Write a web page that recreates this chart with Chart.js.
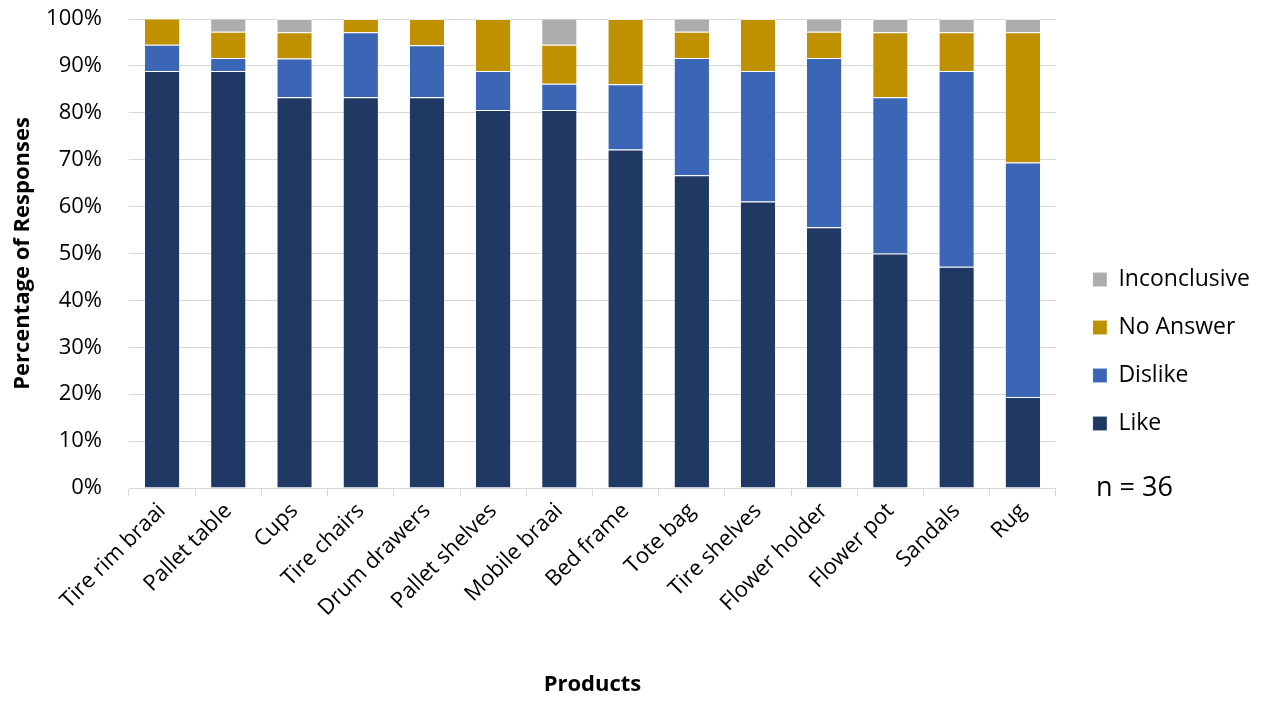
<!DOCTYPE html>
<html>
<head>
<meta charset="utf-8">
<script src="https://cdn.jsdelivr.net/npm/chart.js@4"></script>
<style>
  html, body { margin: 0; padding: 0; background: #fff; }
  #wrap { width: 1263px; height: 704px; }
</style>
</head>
<body>
<div id="wrap"><canvas id="chartProductos" width="1263" height="704"></canvas></div>
<script>
// datos (n = 36 respuestas por producto, en %)
const productos = ['Tire rim braai', 'Pallet table', 'Cups', 'Tire chairs', 'Drum drawers', 'Pallet shelves',
    'Mobile braai', 'Bed frame', 'Tote bag', 'Tire shelves', 'Flower holder', 'Flower pot', 'Sandals', 'Rug'];
const like         = [88.9, 88.9, 83.3, 83.3, 83.3, 80.6, 80.6, 72.2, 66.7, 61.1, 55.6, 50.0, 47.2, 19.4];
const dislike      = [5.6, 2.8, 8.3, 13.9, 11.1, 8.3, 5.6, 13.9, 25.0, 27.8, 36.1, 33.3, 41.7, 50.0];
const noAnswer     = [5.6, 5.6, 5.6, 2.8, 5.6, 11.1, 8.3, 13.9, 5.6, 11.1, 5.6, 13.9, 8.3, 27.8];
const inconclusive = [0, 2.8, 2.8, 0, 0, 0, 5.6, 0, 2.8, 0, 2.8, 2.8, 2.8, 2.8];
const yTicks = [0, 10, 20, 30, 40, 50, 60, 70, 80, 90, 100];
const nTexto = 'n = 36';

const fuente = "'Open Sans', 'Noto Sans', sans-serif";
Chart.defaults.font.family = fuente;
Chart.defaults.color = '#000';

// texto "n = 36" bajo la leyenda
const notaN = {
    id: 'notaN',
    afterDraw(chart) {
        const ctx = chart.ctx;
        ctx.save();
        ctx.font = '27px ' + fuente;
        ctx.fillStyle = '#000';
        ctx.textBaseline = 'middle';
        ctx.fillText(nTexto, 1096, 488);
        ctx.restore();
    }
};

// ajusta la leyenda: un poco más ancha y corrida a la derecha
const ajusteLeyenda = {
    id: 'ajusteLeyenda',
    beforeLayout(chart) {
        const lg = chart.legend;
        if (lg && !lg._parcheado) {
            const fitOriginal = lg.fit;
            lg.fit = function () {
                fitOriginal.call(this);
                this.width += 7;
            };
            lg._parcheado = true;
        }
    },
    afterLayout(chart) {
        const lg = chart.legend;
        if (lg) {
            lg.left += 12;
            lg.top -= 8;
            lg.bottom -= 8;
        }
    }
};

function serie(label, data, color) {
    return {
        label, data,
        backgroundColor: color,
        borderColor: 'rgba(255,255,255,0.6)',
        borderWidth: { top: 1 },
        borderSkipped: false,
        barPercentage: 0.52,
        categoryPercentage: 1
    };
}

new Chart(document.getElementById('chartProductos').getContext('2d'), {
    type: 'bar',
    data: {
        labels: productos,
        datasets: [
            serie('Like', like, '#203864'),
            serie('Dislike', dislike, '#3B66B6'),
            serie('No Answer', noAnswer, '#BF9000'),
            serie('Inconclusive', inconclusive, '#ADADAD')
        ]
    },
    plugins: [notaN, ajusteLeyenda],
    options: {
        responsive: false,
        animation: false,
        layout: { padding: { top: 19, right: 8, left: 4, bottom: 4 } },
        plugins: {
            legend: {
                position: 'right',
                reverse: true,
                labels: {
                    boxWidth: 14,
                    boxHeight: 14,
                    padding: 25,
                    font: { size: 23 }
                }
            },
            tooltip: { enabled: false }
        },
        scales: {
            x: {
                stacked: true,
                afterFit(axis) { axis.height = 212; axis.paddingLeft = 0; axis.paddingRight = 0; },
                grid: { drawOnChartArea: false, drawTicks: true, tickLength: 8, color: '#D9D9D9' },
                border: { color: '#D9D9D9' },
                ticks: { minRotation: 45, maxRotation: 45, font: { size: 22 }, padding: 2 },
                title: { display: true, text: 'Products', font: { size: 22, weight: 'bold' }, padding: { top: 4, bottom: 2 } }
            },
            y: {
                stacked: true,
                min: 0, max: 100,
                afterBuildTicks(axis) { axis.ticks = yTicks.map(v => ({ value: v })); },
                afterFit(axis) { axis.width = 125; axis.paddingTop = 0; axis.paddingBottom = 0; },
                grid: { color: '#D9D9D9', drawTicks: false },
                border: { display: false },
                ticks: { font: { size: 22 }, padding: 27, callback: v => v + '%' },
                title: { display: true, text: 'Percentage of Responses', font: { size: 22, weight: 'bold' }, padding: { top: 6, bottom: 6 } }
            }
        }
    }
});
</script>
</body>
</html>
